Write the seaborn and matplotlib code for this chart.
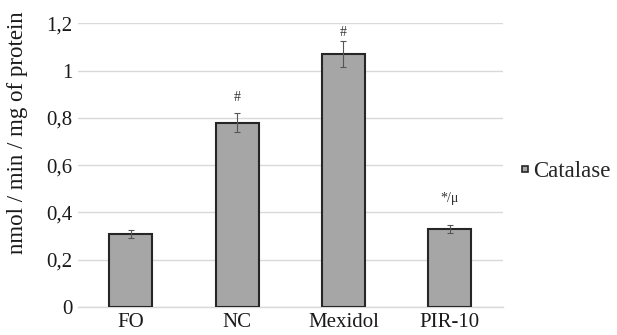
import numpy as np
import pandas as pd
import matplotlib
matplotlib.use("Agg")
import matplotlib.pyplot as plt
from matplotlib.lines import Line2D
import seaborn as sns

# values
groups = ["FO", "NC", "Mexidol", "PIR-10"]
catalase = [0.31, 0.78, 1.07, 0.33]
errors = [0.017, 0.04, 0.055, 0.017]
marks = ["", "#", "#", "*/\u03bc"]

data = pd.DataFrame({"group": groups, "value": catalase})

sns.set_style("white")
plt.rcParams["font.family"] = ["Liberation Serif", "DejaVu Serif"]

fig = plt.figure(figsize=(6.17, 3.35), dpi=100)
ax = fig.add_axes([0.126, 0.0836, 0.689, 0.847])

sns.barplot(data=data, x="group", y="value", color="#a6a6a6", width=0.405,
            edgecolor="#262626", linewidth=1.5, errorbar=None, ax=ax, zorder=3)
x = np.arange(len(groups))
ax.errorbar(x, catalase, yerr=errors, fmt="none", ecolor="#555555",
            elinewidth=0.8, capsize=2.5, capthick=0.8, zorder=4)

# significance marks, gap above the error bar
offs = [0, 0.067, 0.037, 0.113]
for i, m in enumerate(marks):
    if m:
        ax.text(i, catalase[i] + errors[i] + offs[i], m, ha="center", va="center",
                fontsize=10, color="#333333", zorder=5)

ax.set_ylim(0, 1.2)
ax.set_xlim(-0.5, 3.5)
ax.set_yticks([0, 0.2, 0.4, 0.6, 0.8, 1.0, 1.2])
ax.set_yticklabels(["0", "0,2", "0,4", "0,6", "0,8", "1", "1,2"])
ax.yaxis.grid(True, color="#d9d9d9", linewidth=1.0, zorder=0)
ax.set_axisbelow(True)
for s in ["top", "right", "left"]:
    ax.spines[s].set_visible(False)
ax.spines["bottom"].set_color("#d9d9d9")
ax.spines["bottom"].set_linewidth(1.0)
ax.tick_params(axis="both", length=0, labelsize=15, colors="#1a1a1a", pad=4)
ax.set_xlabel("")
ax.set_ylabel("nmol / min / mg of protein", fontsize=16.5, color="#1a1a1a")
ax.yaxis.set_label_coords(-0.118, 0.615)

handle = Line2D([], [], marker="s", linestyle="none", markersize=5,
                markerfacecolor="#a6a6a6", markeredgecolor="#262626", markeredgewidth=1.2)
fig.legend([handle], ["Catalase"], loc="center left", bbox_to_anchor=(0.84, 0.487),
           frameon=False, fontsize=16.5, handletextpad=0.05, handlelength=0.6,
           borderaxespad=0, borderpad=0)

fig.savefig("out.png", dpi=100)
